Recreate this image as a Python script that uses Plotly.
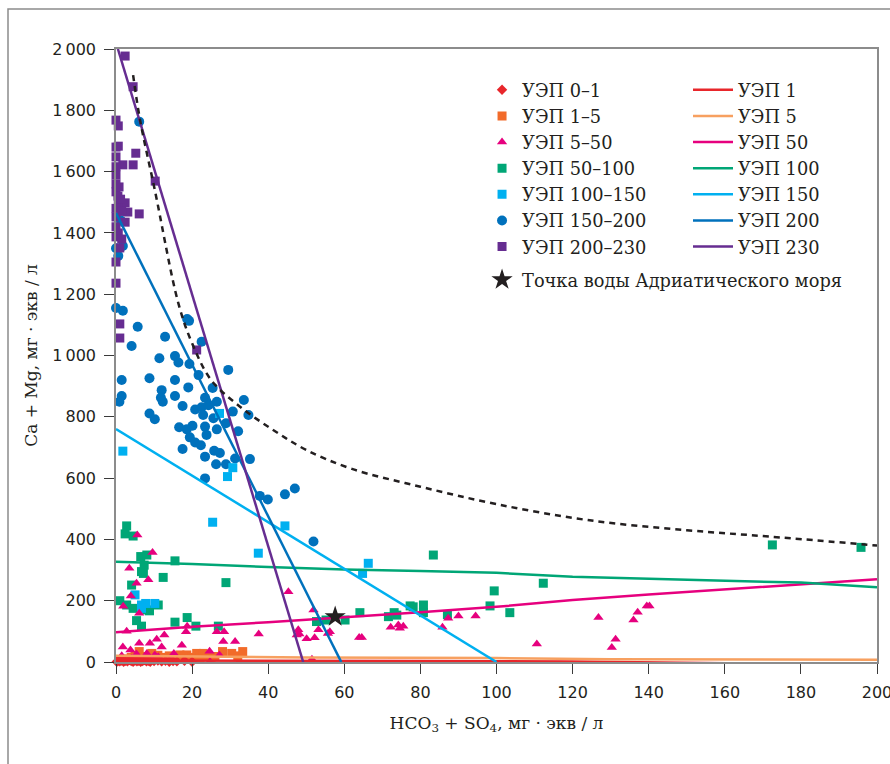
import plotly.graph_objects as go

# ---------------- data ----------------
red_x = [0.2, 0.5, 1.0, 1.5, 2.0, 2.5, 3.0, 3.5, 4.0, 4.5, 5.0, 5.5, 6.0, 6.5, 7.0, 7.5, 8.0, 8.5, 9.0, 10.0, 11.0, 12.0, 13.0, 14.0, 15.0, 16.0, 18.0, 20.0]
red_y = [1, 3, 2, 5, 1, 4, 2, 6, 3, 1, 5, 2, 4, 1, 3, 6, 2, 4, 1, 3, 5, 2, 4, 1, 3, 2, 4, 1]

orange_x = [1.0, 2.0, 3.0, 4.0, 5.0, 6.1, 7.0, 8.0, 9.4, 10.0, 11.0, 12.0, 13.0, 14.0, 15.0, 16.8, 18.6, 20.0, 21.2, 22.1, 22.9, 24.0, 25.0, 26.0, 28.0, 30.4, 32.0, 33.3]
orange_y = [5, 10, 8, 15, 20, 34, 12, 18, 28, 10, 22, 15, 8, 20, 12, 23, 23, 15, 28, 12, 28, 20, 12, 18, 34, 28, 20, 34]

mag_x = [5.6, 9.6, 3.5, 5.4, 8.5, 3.9, 1.9, 6.1, 45.3, 51.9, 2.8, 18.4, 18.7, 26.5, 28.4, 37.5, 12.7, 10.7, 8.9, 6.1,
         1.8, 3.8, 12.0, 17.3, 28.2, 31.3, 24.6, 27.2, 15.2, 14.1, 17.7, 24.7, 47.9, 48.2, 50.1, 52.2, 53.2, 55.7, 56.2, 51.5,
         63.9, 64.6, 72.2, 74.2, 74.6, 75.5, 85.8, 87.3, 90.0, 94.5, 110.6, 126.8, 130.3, 131.3, 136.0, 137.1, 139.5, 140.2,
         5.4, 8.1, 10.2, 1.5, 4.1, 11.1, 8.9, 6.1, 47.5]
mag_y = [414, 357, 306, 257, 268, 215, 182, 159, 229, 170, 100, 99, 117, 99, 99, 91, 88, 74, 61, 61,
         49, 39, 49, 55, 67, 67, 35, 23, 28, 9, 1, 2, 105, 91, 76, 79, 105, 93, 99, 9,
         80, 80, 113, 121, 110, 117, 113, 143, 150, 150, 59, 145, 47, 74, 137, 162, 183, 183,
         26, 28, 23, 20, 12, 17, 12, 9, 88]

green_x = [2.8, 2.4, 4.5, 6.5, 8.1, 7.4, 6.7, 7.2, 15.5, 12.4, 4.1, 28.9, 1.0, 2.8, 4.5, 8.1, 8.8, 11.1, 5.4, 6.7,
           15.5, 18.7, 21.0, 26.9, 52.7, 55.2, 60.2, 64.1, 71.6, 73.1, 73.8, 77.3, 78.1, 80.8, 80.8, 87.1, 83.4, 99.4,
           98.3, 103.5, 112.3, 172.5, 195.8]
green_y = [444, 418, 411, 344, 349, 316, 295, 289, 330, 276, 251, 259, 200, 186, 175, 170, 167, 186, 135, 117,
           130, 145, 117, 117, 132, 137, 137, 161, 148, 161, 153, 183, 180, 186, 161, 155, 349, 232,
           183, 161, 257, 382, 374]

lblue_x = [1.8, 27.2, 29.3, 30.7, 25.4, 44.4, 37.4, 66.3, 64.8, 5.0, 6.7, 7.8, 10.2, 6.7]
lblue_y = [688, 811, 605, 634, 456, 444, 355, 322, 289, 219, 186, 191, 191, 175]

blue_x = [6.1, 0.0, 1.8, 0.6, 0.0, 1.8, 5.7, 4.1, 12.9, 18.7, 19.2, 22.5, 11.4, 15.5, 16.4, 19.3, 21.7, 29.5, 1.5, 8.8,
          15.5, 12.0, 19.0, 25.4, 1.5, 0.9, 11.8, 12.3, 15.5, 23.4, 26.5, 33.6, 8.8, 10.2, 17.5, 20.8, 22.5, 24.3, 30.7, 34.8,
          22.9, 25.6, 16.6, 20.1, 18.6, 23.4, 26.5, 28.9, 32.1, 19.4, 23.8, 20.8, 22.3, 17.5, 25.8, 27.3, 23.4, 31.3, 35.2, 26.3,
          28.9, 23.4, 37.8, 39.9, 44.4, 47.0, 51.9, 1.3]
blue_y = [1763, 1350, 1357, 1325, 1155, 1146, 1094, 1031, 1061, 1119, 1113, 1045, 991, 998, 977, 972, 936, 953, 920, 926,
          920, 887, 896, 894, 868, 849, 862, 849, 868, 862, 849, 855, 811, 792, 835, 824, 831, 838, 817, 806,
          806, 795, 766, 771, 759, 768, 759, 779, 753, 733, 741, 716, 707, 695, 689, 682, 670, 664, 662, 645,
          645, 599, 542, 530, 547, 566, 393, 1440]

purple_x = [2.4, 4.5, 0.0, 0.6, 0.6, 0.0, 0.0, 5.2, 4.5, 1.8, 0.0, 0.0, 10.3, 0.0, 0.8, 2.4, 3.1, 6.1, 0.6, 2.4,
            0.0, 0.6, 0.0, 1.0, 0.0, 0.0, 1.0, 1.0, 21.2, 0.0, 0.5, 1.2, 0.0, 1.5, 0.0, 1.5]
purple_y = [1977, 1877, 1768, 1749, 1683, 1680, 1648, 1660, 1622, 1622, 1616, 1589, 1569, 1534, 1550, 1498, 1468, 1462, 1491, 1435,
            1452, 1400, 1387, 1351, 1305, 1236, 1103, 1057, 1018, 1560, 1520, 1510, 1480, 1470, 1420, 1380]

star_x = [57.6]
star_y = [148]

# model lines
l1_x = [0, 40, 80, 120, 160, 200]
l1_y = [5, 5, 3, 2, -3, -10]
l5_x = [0, 50, 100, 130, 200]
l5_y = [20, 15, 13, 9, 7]
l50_x = [0, 20, 40, 60, 80, 100, 120, 140, 160, 180, 200]
l50_y = [97, 115, 130, 145, 162, 180, 202, 220, 237, 253, 270]
l100_x = [0, 20, 40, 60, 80, 100, 120, 140, 160, 180, 200]
l100_y = [327, 320, 310, 302, 297, 291, 278, 272, 265, 259, 244]
l150_x = [0, 100]
l150_y = [760, 0]
l200_x = [0, 59.2]
l200_y = [1465, 0]
l230_x = [0.5, 49.2]
l230_y = [2000, 0]
dash_x = [4.5, 6.3, 10.2, 16.4, 20, 25, 32.6, 41.3, 50, 62, 80, 100, 124, 150, 172, 200]
dash_y = [1915, 1770, 1540, 1170, 1040, 920, 833, 757, 692, 630, 572, 515, 463, 430, 409, 380]

y_ticks = [0, 200, 400, 600, 800, 1000, 1200, 1400, 1600, 1800, 2000]
y_ticktext = ["0", "200", "400", "600", "800", "1\u2009000", "1\u2009200", "1\u2009400", "1\u2009600", "1\u2009800", "2\u2009000"]
x_ticks = [0, 20, 40, 60, 80, 100, 120, 140, 160, 180, 200]

# ---------------- styles ----------------
C_RED = "#e8262b"
C_ORANGE = "#f26b2a"
C_ORANGE_L = "#f7a060"
C_MAG = "#e6007e"
C_GREEN = "#00a676"
C_LBLUE = "#00b0f0"
C_BLUE = "#0071bc"
C_PURPLE = "#662d91"
TXT = "#231f20"
SERIF = "DejaVu Serif"

fig = go.Figure()

def mk(x, y, name, color, symbol, size):
    fig.add_trace(go.Scatter(x=x, y=y, mode="markers", name=name, legend="legend",
                             legendgroup="a", cliponaxis=False,
                             marker=dict(color=color, symbol=symbol, size=size, line=dict(width=0))))

# drawing order (bottom to top)
mk(blue_x, blue_y, "УЭП 150–200", C_BLUE, "circle", 10)
mk(purple_x, purple_y, "УЭП 200–230", C_PURPLE, "square", 9)
mk(green_x, green_y, "УЭП 50–100", C_GREEN, "square", 9)
mk(lblue_x, lblue_y, "УЭП 100–150", C_LBLUE, "square", 9)
mk(orange_x, orange_y, "УЭП 1–5", C_ORANGE, "square", 9)
mk(mag_x, mag_y, "УЭП 5–50", C_MAG, "triangle-up", 9)
mk(red_x, red_y, "УЭП 0–1", C_RED, "diamond", 8)

def ln(x, y, name, color):
    fig.add_trace(go.Scatter(x=x, y=y, mode="lines", name=name, legend="legend2",
                             line=dict(color=color, width=2.5)))

ln(l1_x, l1_y, "УЭП 1", C_RED)
ln(l5_x, l5_y, "УЭП 5", C_ORANGE_L)
ln(l50_x, l50_y, "УЭП 50", C_MAG)
ln(l100_x, l100_y, "УЭП 100", C_GREEN)
ln(l150_x, l150_y, "УЭП 150", C_LBLUE)
ln(l200_x, l200_y, "УЭП 200", C_BLUE)
ln(l230_x, l230_y, "УЭП 230", C_PURPLE)

fig.add_trace(go.Scatter(x=dash_x, y=dash_y, mode="lines", showlegend=False,
                         line=dict(color="#231f20", width=2.5, dash="6px,5px", shape="spline")))

fig.add_trace(go.Scatter(x=star_x, y=star_y, mode="markers", name="Точка воды Адриатического моря",
                         legend="legend", legendgroup="b", cliponaxis=False,
                         marker=dict(color="#231f20", symbol="star", size=16, line=dict(width=0))))

order = ["УЭП 0–1", "УЭП 1–5", "УЭП 5–50", "УЭП 50–100", "УЭП 100–150", "УЭП 150–200", "УЭП 200–230"]
for tr in fig.data:
    if tr.name in order:
        tr.legendrank = order.index(tr.name) + 1
    elif tr.name == "Точка воды Адриатического моря":
        tr.legendrank = 100

axis_common = dict(showgrid=False, zeroline=False, showline=True, linecolor="#8c8c8c", linewidth=1.5,
                   mirror=True, ticks="outside", ticklen=10, tickwidth=1.3, tickcolor="#3a3a3a",
                   ticklabelstandoff=5, ticklabeloverflow="allow", automargin=False,
                   tickfont=dict(family="DejaVu Sans", size=16, color=TXT))

fig.update_layout(
    width=890, height=764,
    margin=dict(l=116, r=13, t=49, b=102),
    plot_bgcolor="white", paper_bgcolor="white",
    font=dict(family=SERIF, color=TXT),
    xaxis=dict(range=[0, 200], tickvals=x_ticks, ticktext=[str(v) for v in x_ticks],
               title=dict(text="HCO<sub>3</sub> + SO<sub>4</sub>, мг · экв / л",
                          font=dict(family=SERIF, size=17, color=TXT), standoff=16),
               **axis_common),
    yaxis=dict(range=[0, 2000], tickvals=y_ticks, ticktext=y_ticktext,
               title=dict(text="Ca + Mg, мг · экв / л",
                          font=dict(family=SERIF, size=17, color=TXT), standoff=10),
               **axis_common),
    legend=dict(x=0.481, y=0.963, xanchor="left", yanchor="top", bgcolor="rgba(0,0,0,0)",
                font=dict(family=SERIF, size=17.8, color=TXT), traceorder="grouped",
                tracegroupgap=7, itemwidth=30),
    legend2=dict(x=(688 - 116) / 761, y=0.963, xanchor="left", yanchor="top", bgcolor="rgba(0,0,0,0)",
                 font=dict(family=SERIF, size=17.8, color=TXT), itemwidth=40),
    showlegend=True,
    shapes=[dict(type="rect", xref="paper", yref="paper",
                 x0=(8 - 116) / 761, x1=(905 - 116) / 761,
                 y0=(662 - 790) / 613, y1=(662 - 9) / 613,
                 line=dict(color="#8c8c8c", width=1.5), fillcolor="rgba(0,0,0,0)", layer="below")],
)

fig.write_html("out.html")
